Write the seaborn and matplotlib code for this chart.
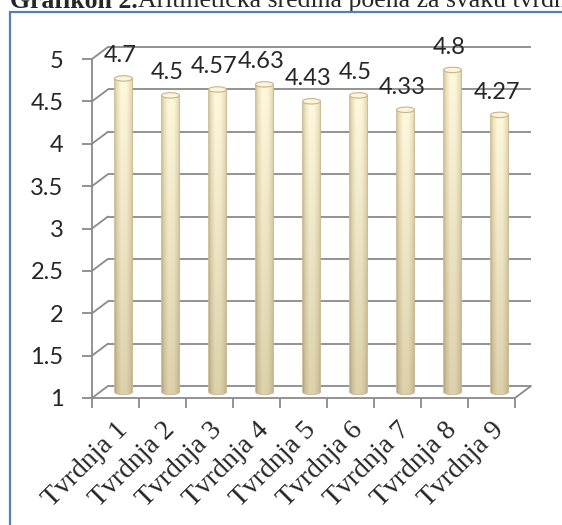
import numpy as np
import pandas as pd
import seaborn as sns
import matplotlib.pyplot as plt
from matplotlib.patches import PathPatch, Ellipse, Rectangle
from matplotlib.path import Path
from matplotlib.transforms import offset_copy

categories = ['Tvrdnja 1', 'Tvrdnja 2', 'Tvrdnja 3', 'Tvrdnja 4', 'Tvrdnja 5',
              'Tvrdnja 6', 'Tvrdnja 7', 'Tvrdnja 8', 'Tvrdnja 9']
means = [4.7, 4.5, 4.57, 4.63, 4.43, 4.5, 4.33, 4.8, 4.27]
y_ticks = [1, 1.5, 2, 2.5, 3, 3.5, 4, 4.5, 5]
title_bold = 'Grafikon 2.'
title_rest = 'Aritmetička sredina poena za svaku tvrdnju'

df = pd.DataFrame({'tvrdnja': categories, 'mean': means})

sns.set_style('white')
plt.rcParams['font.family'] = ['Lato', 'DejaVu Sans']

W, H = 562, 525
fig = plt.figure(figsize=(W / 100, H / 100), dpi=100)
# axes = front plane of the 3d box
ax = fig.add_axes([92 / W, 1 - 398 / H, 423 / W, 339 / H])

grid_c = '#8a8a8a'
sns.barplot(data=df, x='tvrdnja', y='mean', width=0.38, color='#f3ead0', ax=ax)

mid = offset_copy(ax.transData, fig=fig, x=8, y=6, units='dots')
back = offset_copy(ax.transData, fig=fig, x=16, y=12, units='dots')

# back wall gridlines + left wall diagonals + floor
ax.hlines(y_ticks, -0.5, 8.5, transform=back, colors=grid_c, lw=1.3,
          clip_on=False, zorder=0.5)
line_kw = dict(arrowstyle='-', color=grid_c, lw=1.3, shrinkA=0, shrinkB=0)
for y in y_ticks:
    ax.annotate('', xy=(-0.5, y), xycoords=back, xytext=(-0.5, y),
                textcoords=ax.transData, arrowprops=line_kw, annotation_clip=False)
ax.annotate('', xy=(8.5, 1), xycoords=back, xytext=(8.5, 1),
            textcoords=ax.transData, arrowprops=line_kw, annotation_clip=False)

# cylinder shading
nx, ny = 64, 160
t = np.linspace(0, 1, nx)
wgt = np.interp(t, [0, 0.1, 0.35, 0.65, 0.9, 1], [0, 0.5, 1, 0.95, 0.5, 0])
s = np.linspace(0, 1, ny)[:, None, None]
c_top, c_bot = np.array([255, 249, 222]) / 255, np.array([222, 210, 172]) / 255
e_top, e_bot = np.array([214, 198, 155]) / 255, np.array([178, 164, 126]) / 255
center = c_top * (1 - s) + c_bot * s
edge = e_top * (1 - s) + e_bot * s
img = edge + (center - edge) * wgt[None, :, None]

b = 0.032
for bar, v in zip(list(ax.patches), means):
    hw = bar.get_width() / 2
    cx = bar.get_x() + hw
    bar.set_visible(False)
    arc = Path.arc(180, 360)
    verts = [(cx + hw * px, 1 + b * py) for px, py in arc.vertices]
    verts += [(cx + hw, v), (cx - hw, v), (cx - hw, 1)]
    codes = list(arc.codes) + [Path.LINETO, Path.LINETO, Path.CLOSEPOLY]
    body = PathPatch(Path(verts, codes), transform=mid, facecolor='none',
                     edgecolor='#c8b890', lw=0.6, zorder=2.5)
    ax.add_patch(body)
    im = ax.imshow(img, extent=(cx - hw, cx + hw, 1 - b, v), origin='upper',
                   aspect='auto', interpolation='bilinear', zorder=2)
    im.set_transform(mid)
    im.set_clip_path(body)
    ax.add_patch(Ellipse((cx, v), 2 * hw, 2 * b, transform=mid, facecolor='#fcf4d8',
                         edgecolor='#c6b58b', lw=0.8, zorder=3))
    ax.annotate(f'{v:g}', xy=(cx, v), xycoords=mid, xytext=(-3, 16),
                textcoords='offset pixels', ha='center', va='baseline',
                fontsize=17, zorder=5, annotation_clip=False)

ax.set_xlim(-0.5, 8.5)
ax.set_ylim(1, 5)
ax.set_xlabel('')
ax.set_ylabel('')
sns.despine(ax=ax)
for side in ['left', 'bottom']:
    ax.spines[side].set_color(grid_c)
    ax.spines[side].set_linewidth(1.3)

ax.set_yticks(y_ticks)
ax.set_yticklabels([f'{y:g}' for y in y_ticks])
ax.tick_params(axis='y', left=True, length=7, width=1.3, color=grid_c,
               pad=13.5, labelsize=17, direction='out')
ax.set_xticks(np.arange(-0.5, 9), minor=True)
ax.tick_params(axis='x', which='minor', bottom=True, length=7, width=1.3,
               color=grid_c, direction='out')
ax.tick_params(axis='x', which='major', bottom=False, length=0, pad=14)
ax.set_xticks(range(len(categories)))
ax.set_xticklabels(categories, rotation=45, ha='right', rotation_mode='anchor',
                   fontfamily='Liberation Serif', fontsize=20)

# outer chart border and caption
fig.add_artist(Rectangle((10 / W, -0.1), 2, 1 - 12 / H + 0.1, transform=fig.transFigure,
                         fill=False, edgecolor='#4f81bd', lw=1.6))
t1 = fig.text(10 / W, 1 - 7.5 / H, title_bold, fontfamily='Liberation Serif',
              fontweight='bold', fontsize=18.5, va='baseline', ha='left')
ax.annotate(title_rest, xy=(1, 0), xycoords=t1, va='bottom', ha='left',
            fontfamily='Liberation Serif', fontsize=18.5, annotation_clip=False)

fig.savefig('out.png', dpi=100)
